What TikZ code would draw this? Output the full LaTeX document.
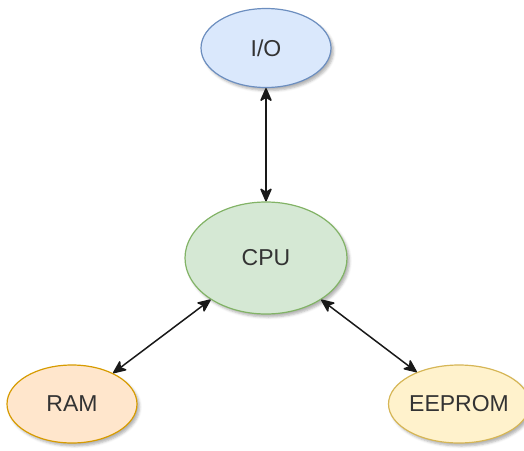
\documentclass[tikz,border=0pt]{standalone}
\usepackage{fontspec}
\setmainfont{Liberation Sans}
\usetikzlibrary{arrows.meta,shadows.blur,shapes.geometric}
\definecolor{ioFill}{HTML}{DAE8FC}\definecolor{ioLine}{HTML}{6C8EBF}
\definecolor{cpuFill}{HTML}{D5E8D4}\definecolor{cpuLine}{HTML}{82B366}
\definecolor{ramFill}{HTML}{FFE6CC}\definecolor{ramLine}{HTML}{D79B00}
\definecolor{romFill}{HTML}{FFF2CC}\definecolor{romLine}{HTML}{D6B656}
\definecolor{txt}{HTML}{333333}
\tikzset{
  unit/.style={ellipse, draw=#1Line, fill=#1Fill, line width=1.2pt,
    inner sep=0pt, text=txt, font=\fontsize{23}{23}\selectfont,
    blur shadow={shadow xshift=2.5pt, shadow yshift=-3pt, shadow blur radius=2.5pt, shadow opacity=30}},
  bus/.style={{Stealth[length=15pt,width=13pt,inset=4pt,round]}-{Stealth[length=15pt,width=13pt,inset=4pt,round]},
    line width=1.5pt, black!90}
}
\begin{document}
\begin{tikzpicture}[x=1pt,y=-1pt]
  \useasboundingbox (0,0) rectangle (524,450);
  \node[unit=io,  minimum width=130pt, minimum height=79pt] (io)  at (266,48)  {I/O};
  \node[unit=cpu, minimum width=162pt, minimum height=112pt] (cpu) at (266,258) {CPU};
  \node[unit=ram, minimum width=130pt, minimum height=78pt] (ram) at (72,404)  {RAM};
  \node[unit=rom, minimum width=129pt, minimum height=78pt] (rom) at (459,404) {EEPROM};
  \draw[bus] (io) -- (cpu);
  \draw[bus] (cpu) -- (ram);
  \draw[bus] (cpu) -- (rom);
\end{tikzpicture}
\end{document}
